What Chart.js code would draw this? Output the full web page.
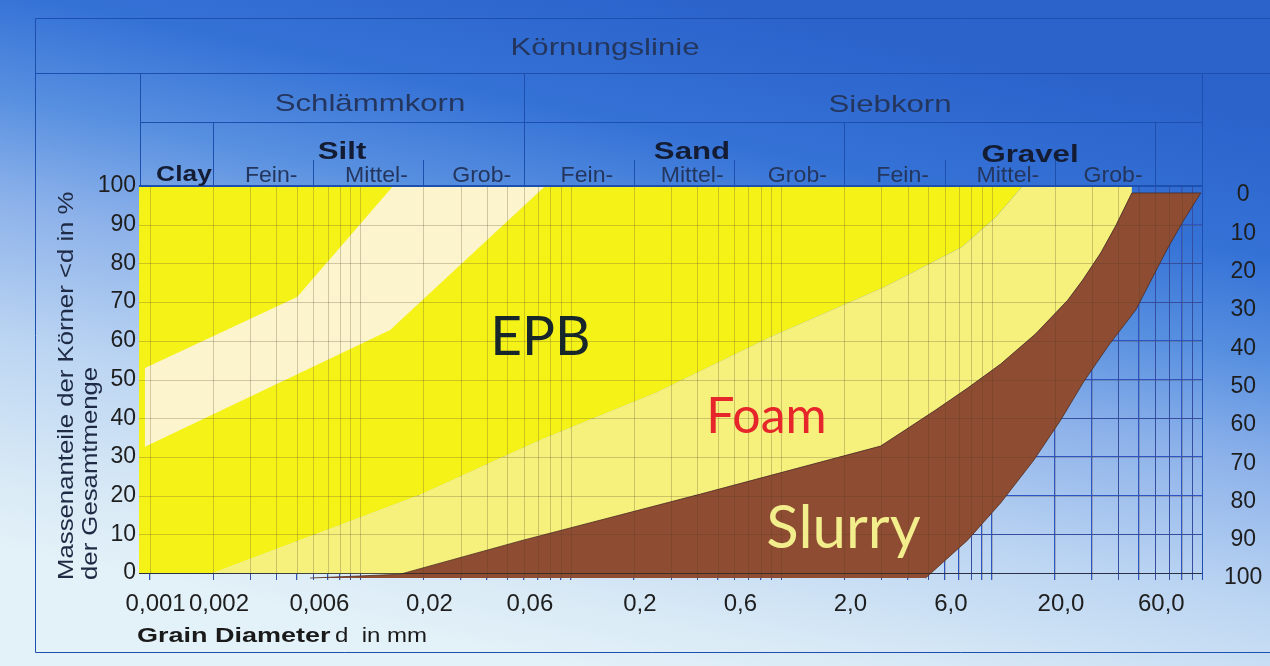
<!DOCTYPE html>
<html lang="de">

<head>
  <meta charset="UTF-8" />
  <title>Körnungslinie</title>
  <script src="https://cdn.jsdelivr.net/npm/chart.js"></script>
  <style>
    body { margin: 0; background: #e3f1f8; }
    canvas { display: block; }
  </style>
</head>

<body>
  <canvas id="grainChart" width="1270" height="666"></canvas>

  <script>
    // Axis range (grain diameter in mm, mass passing in %)
    const xMin = 0.00089;
    const xMax = 100;
    const yTicks = [0, 10, 20, 30, 40, 50, 60, 70, 80, 90, 100];
    const xTickValues = [0.001, 0.002, 0.006, 0.02, 0.06, 0.2, 0.6, 2, 6, 20, 60];
    const xTickText = ['0,001', '0,002', '0,006', '0,02', '0,06', '0,2', '0,6', '2,0', '6,0', '20,0', '60,0'];

    // Soil class limits used for the header
    const classBounds = [0.002, 0.006, 0.02, 0.06, 0.2, 0.6, 2, 6, 20, 60];
    const subLabels = ['Fein-', 'Mittel-', 'Grob-', 'Fein-', 'Mittel-', 'Grob-', 'Fein-', 'Mittel-', 'Grob-'];

    // Light band inside the EPB field (upper and lower edge)
    const lightTopD = [0.00095, 0.00502, 0.01435];
    const lightTopP = [53.0, 71.3, 100];
    const lightBotD = [0.00095, 0.01389, 0.0758];
    const lightBotP = [32.6, 62.8, 100];

    // Limit EPB / Foam
    const epbEdgeD = [0.002, 0.0193, 0.0718, 0.253, 0.891, 3.10, 7.21, 10.5, 14.06];
    const epbEdgeP = [0, 20.2, 34.4, 46.5, 61.0, 73.9, 84.2, 92.0, 100];

    // Slurry field, upper and lower edge
    const slurryTopD = [0.00578, 0.0155, 0.0577, 0.414, 2.97, 3.90, 5.42, 7.70, 11.05, 16.2, 23.0, 27.1, 33.0, 38.9, 46.4];
    const slurryTopP = [-1.3, -0.3, 8.3, 20.4, 32.8, 37.0, 42.1, 47.8, 54.0, 61.8, 70.5, 75.7, 82.7, 89.7, 98.2];
    const slurryBotD = [4.86, 7.70, 11.05, 15.9, 21.3, 27.4, 36.1, 48.5, 59.0, 68.8, 82.0, 98.7];
    const slurryBotP = [-1.3, 8.5, 18.1, 29.2, 39.5, 49.4, 58.9, 68.0, 77.0, 84.0, 91.2, 98.2];

    // Field names: [text, d, %, font, colour]
    const fieldLabels = [
      ['EPB', 0.0718, 56.3, '55px Lato', '#16262a'],
      ['Foam', 0.852, 36.2, '50px Lato', '#e6262b'],
      ['Slurry', 1.98, 6.5, '60px Lato', '#f3ee8c']
    ];

    const pts = (d, p) => d.map((v, i) => ({ x: v, y: p[i] }));
    const last = a => a[a.length - 1];

    const epbShape = [{ x: xMin, y: 0 }, ...pts(epbEdgeD, epbEdgeP), { x: xMin, y: 100 }];
    const lightShape = [...pts(lightTopD, lightTopP), ...pts(lightBotD, lightBotP).reverse()];
    const foamShape = [...pts(epbEdgeD, epbEdgeP), { x: last(slurryTopD), y: 100 },
      ...pts(slurryTopD.slice(1), slurryTopP.slice(1)).reverse()];
    const slurryShape = [...pts(slurryTopD, slurryTopP), ...pts(slurryBotD, slurryBotP).reverse()];

    const xGrid = [];
    for (let e = -3; e <= 1; e++) {
      for (let m = 1; m <= 9; m++) xGrid.push(+(m * Math.pow(10, e)).toPrecision(3));
    }
    xGrid.push(100);

    const SANS = '"Liberation Sans", Arial, sans-serif';
    const LINE = '#1d4fae';

    function shape(data, color, order, border) {
      return {
        data: data,
        backgroundColor: color,
        borderColor: border || 'rgba(0,0,0,0)',
        borderWidth: border ? 1 : 0,
        pointRadius: 0,
        fill: 'shape',
        tension: 0,
        order: order
      };
    }

    function stretchText(ctx, text, x, y, font, sx, color, align) {
      ctx.save();
      ctx.translate(x, y);
      ctx.scale(sx, 1);
      ctx.font = font;
      ctx.fillStyle = color;
      ctx.textAlign = align || 'center';
      ctx.textBaseline = 'middle';
      ctx.fillText(text, 0, 0);
      ctx.restore();
    }

    // page background and header texts
    const backdrop = {
      id: 'backdrop',
      beforeDraw(chart) {
        const ctx = chart.ctx;
        const g = ctx.createLinearGradient(700, 0, 560, 666);
        g.addColorStop(0, '#2b63cb');
        g.addColorStop(0.2, '#3572d6');
        g.addColorStop(0.35, '#5890e0');
        g.addColorStop(0.5, '#8db2ea');
        g.addColorStop(0.7, '#bcd5f2');
        g.addColorStop(0.9, '#d9eaf6');
        g.addColorStop(1, '#e3f1f8');
        ctx.save();
        ctx.fillStyle = g;
        ctx.fillRect(0, 0, chart.width, chart.height);
        ctx.restore();
      },
      afterDraw(chart) {
        const ctx = chart.ctx;
        const a = chart.chartArea;
        const x = chart.scales.x;
        const px = v => Math.round(x.getPixelForValue(v)) + 0.5;
        ctx.save();
        ctx.strokeStyle = LINE;
        ctx.lineWidth = 1;
        const seg = (x1, y1, x2, y2) => {
          ctx.beginPath(); ctx.moveTo(x1, y1); ctx.lineTo(x2, y2); ctx.stroke();
        };
        // outer frame
        seg(35.5, 18.5, 1270, 18.5);
        seg(35.5, 18.5, 35.5, 652.5);
        seg(35.5, 652.5, 1270, 652.5);
        seg(35.5, 73.5, 1270, 73.5);
        seg(a.left + 1.5, 73.5, a.left + 1.5, a.top);
        seg(a.left + 1.5, 122.5, a.right, 122.5);
        seg(a.right + 0.5, 73.5, a.right + 0.5, a.bottom);
        // class dividers
        classBounds.forEach((v, i) => {
          let top = 160;
          if (i === 0 || i === 6 || i === 9) top = 122.5;
          if (i === 3) top = 73.5;
          seg(px(v), top, px(v), a.top);
        });
        ctx.lineWidth = 2;
        seg(a.left, a.top, a.right, a.top);
        ctx.restore();

        const head = '#24365e';
        const bold = '#141c33';
        stretchText(ctx, 'Körnungslinie', 605, 48, '24px ' + SANS, 1.3, head);
        stretchText(ctx, 'Schlämmkorn', 370, 104, '24px ' + SANS, 1.3, head);
        stretchText(ctx, 'Siebkorn', 890, 105, '24px ' + SANS, 1.3, head);
        stretchText(ctx, 'Silt', 342, 152, 'bold 24px ' + SANS, 1.3, bold);
        stretchText(ctx, 'Sand', 692, 152, 'bold 24px ' + SANS, 1.3, bold);
        stretchText(ctx, 'Gravel', 1030, 155, 'bold 24px ' + SANS, 1.3, bold);
        stretchText(ctx, 'Clay', 184, 175, 'bold 22px ' + SANS, 1.2, bold);
        for (let i = 0; i < subLabels.length; i++) {
          const mid = (x.getPixelForValue(classBounds[i]) + x.getPixelForValue(classBounds[i + 1])) / 2;
          stretchText(ctx, subLabels[i], mid + 8, 176, '22px ' + SANS, 1.05, head);
        }

        // axis titles
        ctx.save();
        ctx.translate(67, 580);
        ctx.rotate(-Math.PI / 2);
        stretchText(ctx, 'Massenanteile der Körner <d in %', 0, 0, '22px ' + SANS, 1.17, '#1f2a44', 'left');
        stretchText(ctx, 'der Gesamtmenge', 0, 24, '22px ' + SANS, 1.17, '#1f2a44', 'left');
        ctx.restore();
        stretchText(ctx, 'Grain Diameter', 137, 636, 'bold 20px ' + SANS, 1.35, '#1a1a1a', 'left');
        stretchText(ctx, 'd  in mm', 335, 636, '20px ' + SANS, 1.2, '#1a1a1a', 'left');
      }
    };

    // grid showing through the fields, plus field names
    const overlay = {
      id: 'overlay',
      afterDatasetsDraw(chart) {
        const { ctx, chartArea: a, scales: { x, y } } = chart;
        ctx.save();
        ctx.beginPath();
        ctx.rect(a.left, a.top, a.width, a.height);
        ctx.clip();
        ctx.lineWidth = 1;
        ctx.strokeStyle = 'rgba(80,60,40,0.25)';
        x.ticks.forEach(t => {
          const p = Math.round(x.getPixelForValue(t.value)) + 0.5;
          ctx.beginPath(); ctx.moveTo(p, a.top); ctx.lineTo(p, a.bottom); ctx.stroke();
        });
        y.ticks.forEach(t => {
          const p = Math.round(y.getPixelForValue(t.value)) + 0.5;
          ctx.strokeStyle = t.value === 0 ? 'rgba(40,40,40,0.8)' : 'rgba(80,60,40,0.25)';
          ctx.beginPath(); ctx.moveTo(a.left, p); ctx.lineTo(a.right, p); ctx.stroke();
        });
        ctx.restore();

        ctx.save();
        ctx.textAlign = 'center';
        ctx.textBaseline = 'alphabetic';
        fieldLabels.forEach(([text, d, p, font, color]) => {
          ctx.font = font;
          ctx.fillStyle = color;
          ctx.fillText(text, x.getPixelForValue(d), y.getPixelForValue(p));
        });
        ctx.restore();
      }
    };

    const ctx = document.getElementById('grainChart').getContext('2d');
    new Chart(ctx, {
      type: 'line',
      data: {
        datasets: [
          shape(epbShape, '#f5f218', 4),
          shape(lightShape, '#fcf4cc', 3),
          shape(foamShape, '#f6f17c', 2),
          shape(slurryShape, '#8e4c32', 1, 'rgba(70,35,20,0.7)')
        ]
      },
      options: {
        responsive: false,
        animation: false,
        layout: { padding: { top: 186, left: 0, right: 0, bottom: 0 } },
        plugins: { legend: { display: false }, tooltip: { enabled: false } },
        scales: {
          x: {
            type: 'logarithmic',
            min: xMin,
            max: xMax,
            afterBuildTicks: s => { s.ticks = xGrid.map(v => ({ value: v })); },
            afterFit: s => { s.height = 86; },
            grid: { color: '#2d55c8', lineWidth: 1, drawTicks: false },
            border: { display: false },
            ticks: {
              autoSkip: false,
              maxRotation: 0,
              padding: 10,
              labelOffset: 6,
              color: '#1e1e1e',
              font: { family: SANS, size: 24 },
              callback: v => {
                const i = xTickValues.findIndex(t => Math.abs(t - v) / t < 1e-6);
                return i >= 0 ? xTickText[i] : '';
              }
            }
          },
          y: {
            min: -1.8,
            max: 100,
            afterBuildTicks: s => { s.ticks = yTicks.map(v => ({ value: v })); },
            afterFit: s => { s.width = 139; },
            grid: { color: '#2d55c8', lineWidth: 1, drawTicks: false },
            border: { display: false },
            ticks: { padding: 3, color: '#1e1e1e', font: { family: SANS, size: 23 } }
          },
          y2: {
            position: 'right',
            reverse: true,
            min: -2.35,
            max: 100.5,
            afterBuildTicks: s => { s.ticks = yTicks.map(v => ({ value: v })); },
            afterFit: s => { s.width = 68; },
            grid: { display: false },
            border: { display: false },
            ticks: { padding: 14, crossAlign: 'center', color: '#1e1e1e', font: { family: SANS, size: 23 } }
          }
        }
      },
      plugins: [backdrop, overlay]
    });
  </script>
</body>

</html>
